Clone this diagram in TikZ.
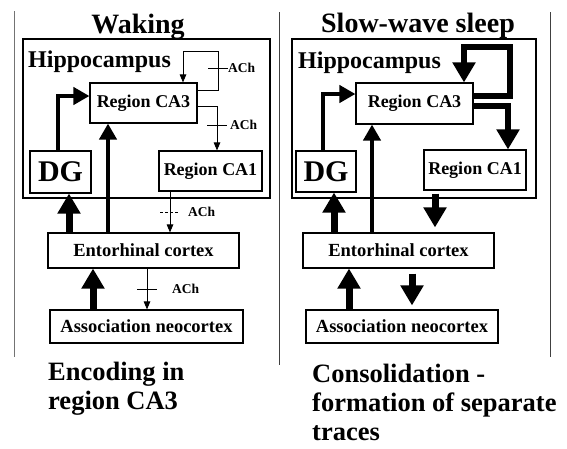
\documentclass[tikz,border=0pt]{standalone}
\usepackage{fontspec}
\setmainfont{Liberation Serif}
\usepackage{tikz}
\usetikzlibrary{arrows.meta}

\begin{document}
\begin{tikzpicture}[x=1pt,y=-1pt,
  hippo/.style={draw,line width=1.1pt,inner sep=0pt},
  region/.style={draw,line width=1.1pt,inner sep=0pt,
                 font=\bfseries\fontsize{18}{20}\selectfont},
  cortex/.style={region,font=\bfseries\fontsize{18.5}{20}\selectfont},
  dg/.style={region,font=\bfseries\fontsize{30}{32}\selectfont},
  thinarr/.style={line width=0.9pt,-{Triangle[width=6.5pt,length=8pt]}},
  medarr/.style={line width=4.5pt,-{Triangle[width=17pt,length=16pt]}},
  bigarr/.style={line width=7pt,-{Triangle[width=22pt,length=20pt]}},
  looparr/.style={line width=5.5pt,-{Triangle[width=22pt,length=20pt]}},
  tick/.style={line width=0.8pt},
  ach/.style={anchor=west,inner sep=0pt,font=\bfseries\fontsize{13.5}{15}\selectfont},
  title/.style={anchor=base,inner sep=0pt,font=\bfseries\fontsize{28}{30}\selectfont},
  hiplabel/.style={anchor=base west,inner sep=0pt,font=\bfseries\fontsize{24}{26}\selectfont},
  caption/.style={anchor=north west,align=left,inner sep=0pt,
                  font=\bfseries\fontsize{26.5}{29}\selectfont},
  divider/.style={line width=1pt,black!75}
]
\useasboundingbox (0,0) rectangle (567,448);

% Panel dividers
\draw[divider,black!55] (14,11) -- (14,357);
\draw[divider] (279,12) -- (279,365);
\draw[divider] (550,12) -- (550,357);

% Titles
\node[title] (titleL) at (138,33) {Waking};
\node[title] (titleR) at (418,32) {Slow-wave sleep};

% ---------- Waking ----------
\node[hippo,minimum width=247pt,minimum height=159pt] (hipL) at (146.5,118.5) {};
\node[hiplabel] (hiplblL) at (28,67) {Hippocampus};

\node[region,minimum width=107pt,minimum height=40pt] (ca3L) at (143.5,103) {Region CA3};
\node[dg,minimum width=61pt,minimum height=42pt] (dgL) at (60.5,172) {DG};
\node[region,minimum width=103pt,minimum height=40pt] (ca1L) at (210.5,171) {Region CA1};
\node[cortex,minimum width=191pt,minimum height=35pt] (ecL) at (143.5,250.5) {Entorhinal cortex};
\node[cortex,minimum width=193pt,minimum height=33pt] (anL) at (146.5,326.5) {Association neocortex};

% thick pathways
\draw[medarr] (dgL.north -| 58,0) |- (ca3L.west |- 0,96);
\draw[medarr] (ecL.north -| 108,0) -- (ca3L.south -| 108,0);
\draw[bigarr] (ecL.north -| 69,0) -- (dgL.south -| 69,0);
\draw[bigarr] (anL.north -| 93,0) -- (ecL.south -| 93,0);

% cholinergic suppressed pathways
\draw[thinarr] (ca3L.east |- 0,90) -| (218,51) -| (ca3L.north -| 183,0);
\draw[thinarr] (ca3L.east |- 0,106) -| (ca1L.north -| 217,0);
\draw[thinarr] (ca1L.south -| 170,0) -- (ecL.north -| 170,0);
\draw[thinarr] (ecL.south -| 147,0) -- (anL.north -| 147,0);

\foreach \n/\x/\y/\lx in {a/218/68/228, b/217/125/230, d/147/289/172} {
  \draw[tick] (\x-10,\y) -- (\x+10,\y);
  \node[ach] (ach\n) at (\lx,\y) {ACh};
}
\draw[tick,dash pattern=on 3pt off 2pt] (160,212) -- (178,212);
\node[ach] (achc) at (188,212) {ACh};

% ---------- Slow-wave sleep ----------
\node[hippo,minimum width=244pt,minimum height=159pt] (hipR) at (414,118.5) {};
\node[hiplabel] (hiplblR) at (298,68) {Hippocampus};

\node[region,minimum width=117pt,minimum height=41pt] (ca3R) at (414.5,103.5) {Region CA3};
\node[dg,minimum width=60pt,minimum height=41pt] (dgR) at (326,171.5) {DG};
\node[region,minimum width=102pt,minimum height=40pt] (ca1R) at (475,170) {Region CA1};
\node[cortex,minimum width=191pt,minimum height=35pt] (ecR) at (398.5,250.5) {Entorhinal cortex};
\node[cortex,minimum width=192pt,minimum height=33pt] (anR) at (402,326.5) {Association neocortex};

\draw[medarr] (dgR.north -| 323,0) |- (ca3R.west |- 0,94);
\draw[medarr] (ecR.north -| 372,0) -- (ca3R.south -| 372,0);
\draw[bigarr] (ecR.north -| 334,0) -- (dgR.south -| 334,0);
\draw[bigarr] (anR.north -| 349,0) -- (ecR.south -| 349,0);
\draw[bigarr,shorten <=3pt,shorten >=5pt] (ca1R.south -| 435,0) -- (ecR.north -| 435,0);
\draw[bigarr,shorten <=5pt,shorten >=4pt] (ecR.south -| 412,0) -- (anR.north -| 412,0);

% recurrent and Schaffer collaterals released
\draw[looparr] (ca3R.east |- 0,96) -| (510,47) -| (ca3R.north -| 464,0);
\draw[looparr] (ca3R.east |- 0,106) -| (ca1R.north -| 508,0);

% Captions
\node[caption] (capL) at (48,362) {Encoding in\\region CA3};
\node[caption] (capR) at (312,364) {Consolidation -\\formation of separate\\traces};

\end{tikzpicture}
\end{document}
